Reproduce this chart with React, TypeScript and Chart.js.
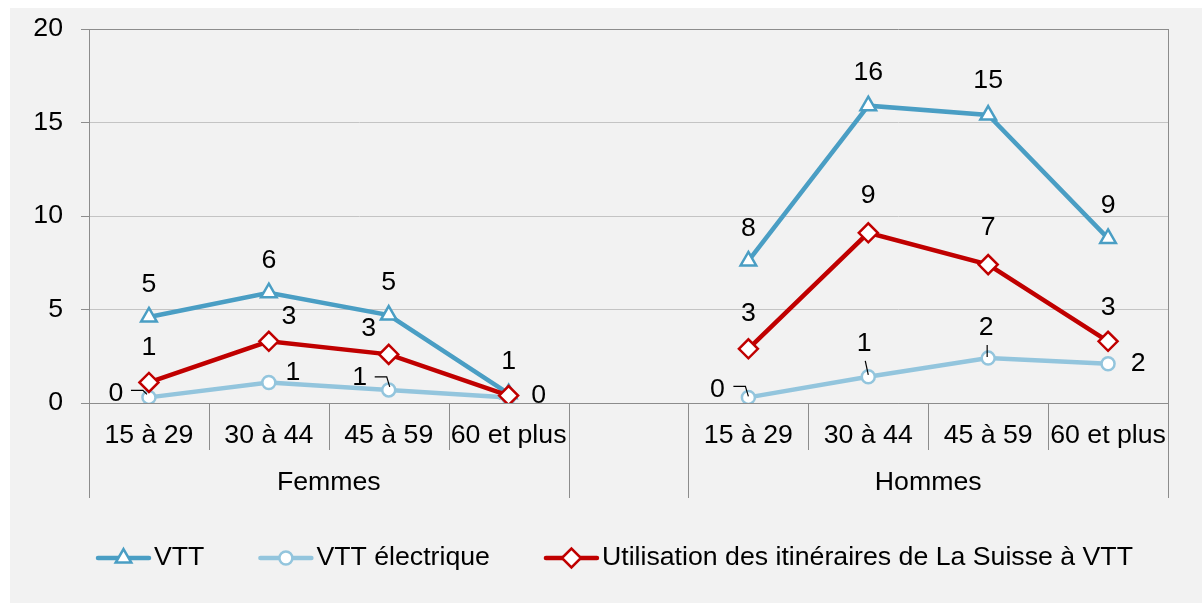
import React, { useEffect, useRef } from 'react';
import { Chart, registerables } from 'chart.js';
import { drawPoint } from 'chart.js/helpers';

Chart.register(...registerables);

// ---------- data ----------
const categories = ['15 à 29', '30 à 44', '45 à 59', '60 et plus', '', '15 à 29', '30 à 44', '45 à 59', '60 et plus'];
const groups = ['Femmes', 'Hommes'];
const groupRanges = [[0, 4], [5, 9]];
const vtt = [4.6, 5.9, 4.7, 0.5, null, 7.6, 15.9, 15.4, 8.8];
const vttElectrique = [0.3, 1.1, 0.7, 0.3, null, 0.3, 1.4, 2.4, 2.1];
const itineraires = [1.1, 3.3, 2.6, 0.4, null, 2.9, 9.1, 7.4, 3.3];
const yMin = 0;
const yMax = 20;
const yStep = 5;
const seriesLabels = ['VTT', 'VTT électrique', 'Utilisation des itinéraires de La Suisse à VTT'];

// ---------- style ----------
const FONT_FAMILY = '"Liberation Sans", Arial, sans-serif';
const FONT_SIZE = 26.7;
const COLORS = {
  vtt: '#4a9ec4',
  elec: '#93c5dd',
  itin: '#c00000',
  axis: '#8c8c8c',
  grid: '#c4c4c4',
  bg: '#f2f2f2',
  text: '#000000',
};

type Place = { dx: number; dy: number; leader?: number[][] } | null;

const vttPlaces: Place[] = [
  { dx: 0, dy: -32 }, { dx: 0, dy: -32 }, { dx: 0, dy: -32 }, { dx: 0, dy: -32 }, null,
  { dx: 0, dy: -32 }, { dx: 0, dy: -33 }, { dx: 0, dy: -34 }, { dx: 0, dy: -33 },
];
const elecPlaces: Place[] = [
  { dx: -33, dy: -4, leader: [[-18, -7], [-6, -7], [-2, -3]] },
  { dx: 24, dy: -10 },
  { dx: -29, dy: -12, leader: [[-14, -13], [-2, -13], [1, -3]] },
  null,
  null,
  { dx: -31, dy: -8, leader: [[-15, -11], [-3, -11], [0, -1]] },
  { dx: -4, dy: -33, leader: [[-3, -16], [0, -2]] },
  { dx: -2, dy: -30, leader: [[-1, -13], [-1, -1]] },
  { dx: 30, dy: 0 },
];
const itinPlaces: Place[] = [
  { dx: 0, dy: -35 }, { dx: 20, dy: -25 }, { dx: -20, dy: -26 }, { dx: 30, dy: 0 }, null,
  { dx: 0, dy: -35 }, { dx: 0, dy: -37 }, { dx: 0, dy: -37 }, { dx: 0, dy: -34 },
];

const seriesStyles = [
  { color: COLORS.vtt, pointStyle: 'triangle', radius: 9, places: vttPlaces },
  { color: COLORS.elec, pointStyle: 'circle', radius: 6.5, places: elecPlaces },
  { color: COLORS.itin, pointStyle: 'rectRot', radius: 9.5, places: itinPlaces },
];

const X_AXIS_HEIGHT = 95;
const LEGEND_START_X = 86;
const LEGEND_Y = 550;
const LEGEND_GAP = 54;

const font = () => `${FONT_SIZE}px ${FONT_FAMILY}`;

const decorPlugin = {
  id: 'decor',
  afterDatasetsDraw(chart: any) {
    const ctx: CanvasRenderingContext2D = chart.ctx;
    const area = chart.chartArea;
    const n = categories.length;
    const w = (area.right - area.left) / n;
    const crisp = (v: number) => Math.round(v) + 0.5;
    ctx.save();
    ctx.strokeStyle = COLORS.axis;
    ctx.lineWidth = 1;
    const seg = (x1: number, y1: number, x2: number, y2: number) => {
      ctx.beginPath();
      ctx.moveTo(x1, y1);
      ctx.lineTo(x2, y2);
      ctx.stroke();
    };
    const yb = crisp(area.bottom);
    // x axis line
    seg(area.left, yb, area.right, yb);
    // right border
    seg(crisp(area.right), area.top, crisp(area.right), area.bottom + X_AXIS_HEIGHT);
    // separators
    const groupEdges = new Set<number>();
    groupRanges.forEach(([s, e]) => { groupEdges.add(s); groupEdges.add(e); });
    for (let i = 0; i <= n; i++) {
      const x = crisp(area.left + i * w);
      if (groupEdges.has(i)) {
        seg(x, area.bottom, x, area.bottom + X_AXIS_HEIGHT);
      } else if (groupRanges.some(([s, e]) => i > s && i < e)) {
        seg(x, area.bottom, x, area.bottom + 47);
      }
    }
    // group labels
    ctx.fillStyle = COLORS.text;
    ctx.font = font();
    ctx.textAlign = 'center';
    ctx.textBaseline = 'middle';
    groupRanges.forEach(([s, e], gi) => {
      const cx = area.left + ((s + e) / 2) * w;
      ctx.fillText(groups[gi], cx, area.bottom + 80);
    });

    // data labels
    chart.data.datasets.forEach((ds: any, di: number) => {
      const meta = chart.getDatasetMeta(di);
      const st = seriesStyles[di];
      meta.data.forEach((pt: any, i: number) => {
        const v = ds.data[i];
        const place = st.places[i];
        if (v === null || v === undefined || !place) return;
        if (place.leader) {
          ctx.strokeStyle = '#000';
          ctx.lineWidth = 1.2;
          ctx.beginPath();
          place.leader.forEach(([lx, ly], k) => {
            if (k === 0) ctx.moveTo(pt.x + lx, pt.y + ly);
            else ctx.lineTo(pt.x + lx, pt.y + ly);
          });
          ctx.stroke();
        }
        ctx.fillStyle = COLORS.text;
        ctx.fillText(String(Math.round(v)), pt.x + place.dx, pt.y + place.dy);
      });
    });
    ctx.restore();
  },
  afterDraw(chart: any) {
    const ctx: CanvasRenderingContext2D = chart.ctx;
    ctx.save();
    ctx.font = font();
    ctx.textBaseline = 'middle';
    ctx.textAlign = 'left';
    let x = LEGEND_START_X;
    seriesLabels.forEach((label, i) => {
      const st = seriesStyles[i];
      ctx.strokeStyle = st.color;
      ctx.lineWidth = 4.5;
      ctx.lineCap = 'round';
      ctx.beginPath();
      ctx.moveTo(x + 2, LEGEND_Y);
      ctx.lineTo(x + 53, LEGEND_Y);
      ctx.stroke();
      ctx.lineCap = 'butt';
      ctx.fillStyle = '#ffffff';
      ctx.strokeStyle = st.color;
      ctx.lineWidth = 2.5;
      drawPoint(ctx, { pointStyle: st.pointStyle as any, radius: st.radius, rotation: 0, borderWidth: 2.5 }, x + 27.5, LEGEND_Y);
      ctx.fillStyle = COLORS.text;
      ctx.fillText(label, x + 58, LEGEND_Y);
      x += 58 + ctx.measureText(label).width + LEGEND_GAP;
    });
    ctx.restore();
  },
};

export default function App() {
  const canvasRef = useRef<HTMLCanvasElement | null>(null);

  useEffect(() => {
    const canvas = canvasRef.current;
    if (!canvas) return;
    const seriesData = [vtt, vttElectrique, itineraires];
    const chart = new Chart(canvas, {
      type: 'line',
      data: {
        labels: categories,
        datasets: seriesData.map((d, i) => ({
          label: seriesLabels[i],
          data: d,
          borderColor: seriesStyles[i].color,
          backgroundColor: '#ffffff',
          borderWidth: 4.5,
          pointStyle: seriesStyles[i].pointStyle as any,
          pointRadius: seriesStyles[i].radius,
          pointBorderWidth: 2.5,
          pointBackgroundColor: '#ffffff',
          pointBorderColor: seriesStyles[i].color,
          tension: 0,
          spanGaps: false,
          fill: false,
          order: 2 - i,
        })),
      },
      options: {
        animation: false,
        responsive: false,
        maintainAspectRatio: false,
        layout: { padding: { top: 21, right: 34, bottom: 105, left: 0 } },
        plugins: {
          legend: { display: false },
          tooltip: { enabled: false },
          title: { display: false },
        },
        scales: {
          x: {
            type: 'category',
            offset: true,
            grid: { display: false },
            border: { display: false },
            ticks: {
              color: COLORS.text,
              font: { family: FONT_FAMILY, size: FONT_SIZE },
              padding: 9,
              maxRotation: 0,
              minRotation: 0,
              autoSkip: false,
            },
            afterFit: (scale: any) => {
              scale.height = X_AXIS_HEIGHT;
              scale.paddingLeft = 0;
              scale.paddingRight = 0;
            },
          },
          y: {
            min: yMin,
            max: yMax,
            ticks: {
              stepSize: yStep,
              color: COLORS.text,
              font: { family: FONT_FAMILY, size: FONT_SIZE },
              padding: 18,
            },
            grid: {
              color: (c: any) => (c.tick && (c.tick.value === yMin || c.tick.value === yMax) ? COLORS.axis : COLORS.grid),
              tickColor: COLORS.axis,
              tickLength: 8,
              lineWidth: 1,
            },
            border: { display: true, color: COLORS.axis, width: 1 },
            afterFit: (scale: any) => {
              scale.width = 79;
              scale.paddingTop = 0;
              scale.paddingBottom = 0;
            },
          },
        },
      },
      plugins: [decorPlugin],
    });
    return () => chart.destroy();
  }, []);

  return (
    <div
      style={{
        position: 'fixed',
        left: 10,
        top: 8,
        width: 1192,
        height: 595,
        background: COLORS.bg,
      }}
    >
      <canvas ref={canvasRef} width={1192} height={595} style={{ display: 'block', width: 1192, height: 595 }} />
    </div>
  );
}
